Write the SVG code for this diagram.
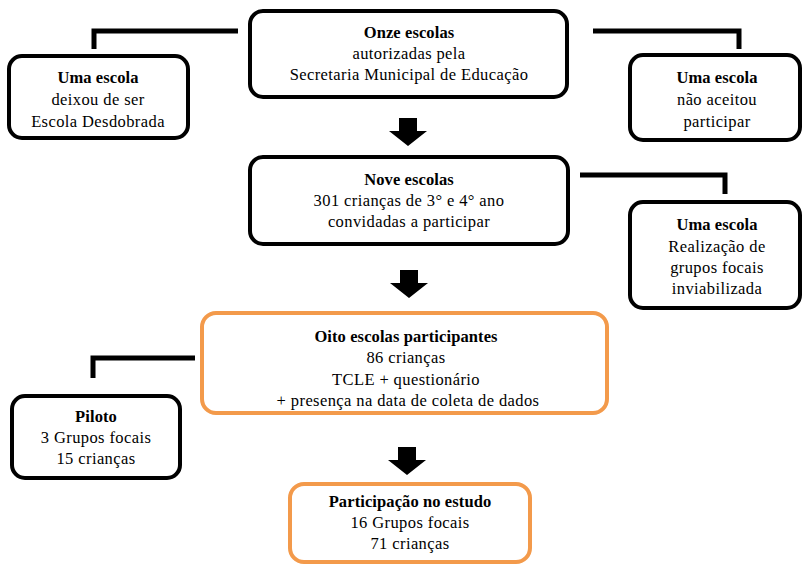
<svg xmlns="http://www.w3.org/2000/svg" width="802" height="565" viewBox="0 0 802 565">
<defs>
<style>
.bk{fill:#fff;stroke:#000;stroke-width:4}
.or{fill:#fff;stroke:#F39A4B;stroke-width:4}
.cn{fill:none;stroke:#000;stroke-width:5;stroke-linejoin:miter;stroke-linecap:butt}
.t{font-family:'Liberation Serif','DejaVu Serif',serif;font-size:16.5px;fill:#000;text-anchor:middle;letter-spacing:0.4px}
.b{font-weight:bold;letter-spacing:0.1px}
</style>
<path id="arr" d="M-9,0 H9 V13 H19 L0,28 L-19,13 H-9 Z" fill="#000"/>
</defs>
<rect width="802" height="565" fill="#fff"/>
<g id="connectors">
<polyline class="cn" points="238,31 94,31 94,49"/>
<polyline class="cn" points="593,31 739,31 739,49"/>
<polyline class="cn" points="580,175 725,175 725,194"/>
<polyline class="cn" points="195,358 93,358 93,378"/>
<use href="#arr" x="408" y="118"/>
<use href="#arr" x="409" y="270"/>
<use href="#arr" x="407" y="447"/>
</g>
<g class="t" font-family="Liberation Serif, serif">
<g id="onze">
<rect class="bk" x="250" y="11" width="317" height="86" rx="13"/>
<text class="b" x="409" y="38">Onze escolas</text>
<text x="409" y="59">autorizadas pela</text>
<text x="409" y="80">Secretaria Municipal de Educação</text>
</g>
<g id="desdobrada">
<rect class="bk" x="9" y="56" width="179" height="82" rx="13"/>
<text class="b" x="98" y="83">Uma escola</text>
<text x="98" y="105">deixou de ser</text>
<text x="98" y="127">Escola Desdobrada</text>
</g>
<g id="naoaceitou">
<rect class="bk" x="630" y="55" width="170" height="85" rx="13"/>
<text class="b" x="717" y="83">Uma escola</text>
<text x="717" y="105">não aceitou</text>
<text x="717" y="127">participar</text>
</g>
<g id="nove">
<rect class="bk" x="250" y="157" width="318" height="87" rx="13"/>
<text class="b" x="409" y="185">Nove escolas</text>
<text x="409" y="206">301 crianças  de 3° e 4° ano</text>
<text x="409" y="227">convidadas a participar</text>
</g>
<g id="inviabilizada">
<rect class="bk" x="630" y="202" width="170" height="106" rx="13"/>
<text class="b" x="717" y="230">Uma escola</text>
<text x="717" y="252">Realização de</text>
<text x="717" y="273">grupos focais</text>
<text x="717" y="294">inviabilizada</text>
</g>
<g id="oito">
<rect class="or" x="202" y="313" width="405" height="100" rx="14"/>
<text class="b" x="406" y="342">Oito escolas participantes</text>
<text x="406" y="363">86 crianças</text>
<text x="406" y="385">TCLE + questionário</text>
<text x="408" y="406">+ presença na data de coleta de dados</text>
</g>
<g id="piloto">
<rect class="bk" x="12" y="396" width="168" height="82" rx="13"/>
<text class="b" x="96" y="422">Piloto</text>
<text x="96" y="443">3 Grupos focais</text>
<text x="96" y="464">15 crianças</text>
</g>
<g id="participacao">
<rect class="or" x="290" y="484" width="240" height="78" rx="14"/>
<text class="b" x="410" y="507">Participação no estudo</text>
<text x="410" y="528">16 Grupos focais</text>
<text x="410" y="549">71 crianças</text>
</g>
</g>
</svg>
